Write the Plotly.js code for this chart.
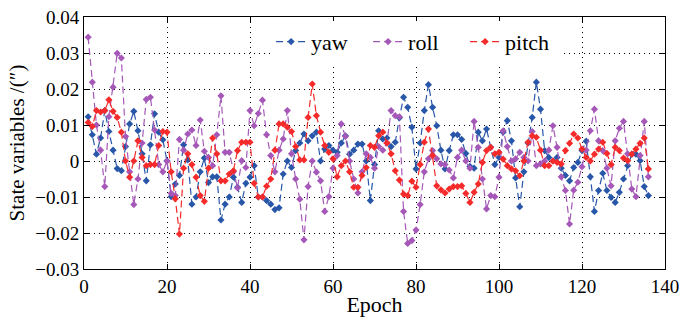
<!DOCTYPE html>
<html><head><meta charset="utf-8">
<script src="https://cdn.plot.ly/plotly-3.0.1.min.js"></script>
<style>html,body{margin:0;padding:0;background:#fff}#c{width:681px;height:320px}</style>
</head><body><div id="c"></div>
<script>
const yaw = [12.3,7.3,1.9,6.4,14,8.2,3,-2.1,-2.7,4,10.3,13.8,8.4,2,-5.5,4.5,13.1,8,5.9,0,
-9.9,-6.4,-4,4.5,0.3,-12,-10,-3,0.8,-6,-4.4,-4.4,-16.4,-12,-10,-4.5,-7.3,-11.5,-6.2,-4.5,
-1.3,-10,-10,-11,-12,-13.5,-13,-3.6,0,-1.8,2.9,5,7.5,5.6,7,8,0,3.3,4.3,3,
2.4,5,7,1.9,3,4.7,4.7,0,-11,-1,8.4,6.1,6.4,4,5.2,12,17.7,14.9,9.4,-2.2,
5,14,21.2,14.9,9.8,3,-2.2,2.9,7.3,7.3,6,2.1,-1.5,-2,8,5.6,8.9,3.8,-1,1,
8,11.2,5.6,-4.7,-12.7,-3,5,12.1,21.9,14.4,2.9,1,0,1,-2,-4,-5.5,-1.8,-0.4,2.9,
5.5,-4.4,-14,-8.2,-3.4,-8.2,-10.1,-11.5,-8.7,-5,-1.3,1.9,1.9,0.1,-7.1,-9.6];
const roll = [34.4,21.9,10,3,-7.1,12.3,20.5,29.9,28.6,6.8,-3,-12.1,-5,5,17.1,17.7,8.6,-1,-3,0,
-9,-9.6,6,3,7.5,8.6,4.3,11.4,2.7,1,-1.3,7.3,18.1,2.4,2.4,-3,-7.5,0.1,-1.8,14,
9.8,13.2,16.9,7.3,1.5,-3,3,6.1,14,2,-5,-10.6,-21.9,-7.1,0,-3.1,-5.5,-14,-9.9,-2,
1.5,10.3,6.8,0,-5,-8.9,-3,2,1,-2,4,3,5,14,12.6,12.3,-14,-22.9,-22.1,-19.2,
-12.1,-3,0.6,2.9,0.6,-0.8,-1,-2.5,-4.7,1,3,0,-2,11,3.8,-5,-13.3,-9.6,-9.9,-4.5,
8.4,4,0,0.6,2.4,1,0,8.2,-1.3,-0.8,0,3,9.8,3.8,-4.4,-8.2,-17.5,-8.1,-5.9,-1.6,
3,8.4,14.4,5.6,2.9,-2,-6.9,5.6,9.1,11,2,-7.8,-9.9,1.5,11,-4.4];
const pitch = [10.7,9.6,14,13.6,14,17,13.8,12.1,8,0,-4.5,0,5.6,1,-1.3,-1,-1,4.3,8.2,8,
-3,-10.5,-20.3,-2,2,-1,-4.5,-9.6,-11.2,-2,6.4,2,-5.5,-5.5,-3.6,-2.7,2.9,5.2,5.2,5.2,
-6.2,-10,-10,-7,-5,3,10.3,10.3,9.4,8.2,4,0.3,0.3,12.1,21.4,12.6,8,4.3,2.4,0.6,
-4.4,-1.3,0,-3,-7.3,-7.3,-4,-1.8,4.3,3.8,7,8,5,2,-2.7,-5.3,-9.2,-9.6,-5.6,-7.3,
-1,5.2,8.9,1.5,-6.9,-8,-8.9,-7.8,-7.1,-7.1,-6.9,-9,-11.5,-8.7,-6.4,-0.4,2.9,3.8,2,2.4,
0.5,-1.3,-2.2,-2.7,-4.1,0,5.2,7,6.6,3,-1.3,-1.3,0,-0.4,-0.8,2.9,4.9,7.5,6.4,3.3,
1,0,1.9,3.3,5.2,2.1,-1,3.8,2.9,0.8,0.1,1.9,3.3,4.9,6.4,-2.2];
const epochs = yaw.map((_, i) => i + 1);
const scale = v => v / 1000;

const FONT = "Liberation Serif";
const series = [
  {name: 'yaw', y: yaw, color: '#2856a8'},
  {name: 'roll', y: roll, color: '#a558b8'},
  {name: 'pitch', y: pitch, color: '#f52a2a'}
];
const traces = series.map(s => ({
  type: 'scatter', mode: 'lines+markers', name: s.name,
  x: epochs, y: s.y.map(scale),
  line: {color: s.color, width: 1.2, dash: '7px,4px'},
  marker: {symbol: 'diamond', size: 5.5, color: s.color}
}));

const axisCommon = {
  showline: true, linecolor: '#000', linewidth: 1, mirror: 'ticks',
  ticks: 'inside', ticklen: 5, tickcolor: '#000',
  showgrid: true, gridcolor: '#000', griddash: '1px,4px', gridwidth: 1,
  zeroline: false,
  tickfont: {family: FONT, size: 19, color: '#000'}
};
const layout = {
  width: 681, height: 320,
  margin: {l: 84, r: 16, t: 17, b: 51},
  paper_bgcolor: '#fff', plot_bgcolor: '#fff',
  font: {family: FONT, size: 19, color: '#000'},
  xaxis: Object.assign({}, axisCommon, {
    range: [0, 140], tickvals: [0,20,40,60,80,100,120,140],
    title: {text: 'Epoch', font: {size: 22, family: FONT}, standoff: 0}
  }),
  yaxis: Object.assign({}, axisCommon, {
    range: [-0.03, 0.04], dtick: 0.01, tick0: 0,
    title: {text: 'State variables /(″)', font: {size: 21, family: FONT}, standoff: 4}
  }),
  showlegend: true,
  legend: {
    orientation: 'h', x: 0.322, y: 0.985, xanchor: 'left', yanchor: 'top',
    bgcolor: '#fff', borderwidth: 0,
    font: {family: FONT, size: 22, color: '#000'},
    entrywidth: 52, entrywidthmode: 'pixels', tracegroupgap: 0
  }
};
Plotly.newPlot('c', traces, layout, {staticPlot: true, displayModeBar: false});
</script></body></html>
